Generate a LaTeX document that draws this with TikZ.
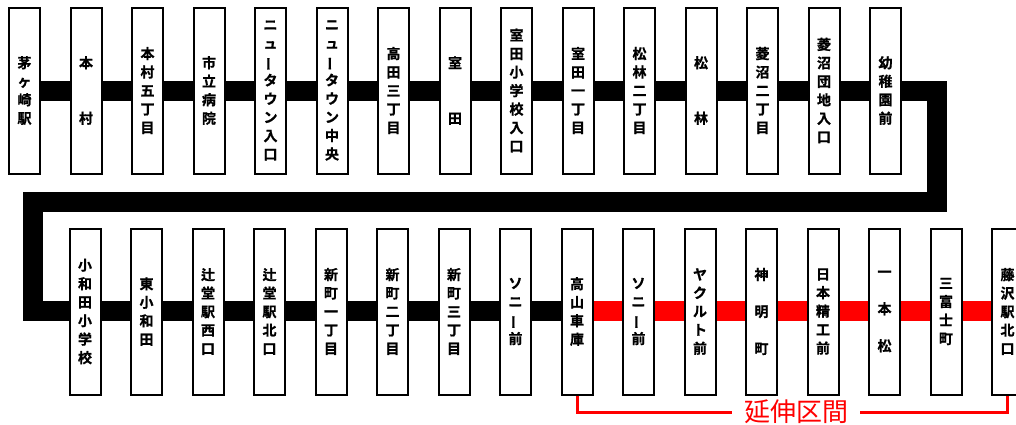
\documentclass[tikz,border=0pt]{standalone}
\usepackage{fontspec}
\usepackage{graphicx}
\newfontfamily\jp{Noto Sans CJK JP}
\newfontfamily\jpb{Noto Sans CJK JP Bold}[FakeBold=1]
\usetikzlibrary{backgrounds}
\newcommand\chobar{\rotatebox[origin=c]{90}{ー}}
\begin{document}
\begin{tikzpicture}[x=1pt,y=-1pt,
  st/.style={draw, line width=2pt, fill=white, minimum width=31pt, minimum height=166pt,
    inner sep=0pt, align=center, font=\jpb\fontsize{14}{18.5}\selectfont},
  bar/.style={line width=20pt, line join=miter, line cap=butt},
  redbar/.style={bar, red},
  brk/.style={red, line width=3pt},
  lbl/.style={red, inner xsep=12pt, inner ysep=0pt, font=\jp\fontsize{26}{26}\selectfont}]
\useasboundingbox (0,0) rectangle (1016,424);
\clip (0,0) rectangle (1016,424);
% top row
\node[st] (t1) at (24.5,90.5) {茅\\ヶ\\崎\\駅};
\node[st] (t2) at (86,90.5) {本\\　\\　\\村};
\node[st] (t3) at (147.5,90.5) {本\\村\\五\\丁\\目};
\node[st] (t4) at (209,90.5) {市\\立\\病\\院};
\node[st] (t5) at (270.5,90.5) {ニ\\ュ\\\chobar\\タ\\ウ\\ン\\入\\口};
\node[st] (t6) at (332,90.5) {ニ\\ュ\\\chobar\\タ\\ウ\\ン\\中\\央};
\node[st] (t7) at (393.5,90.5) {高\\田\\三\\丁\\目};
\node[st] (t8) at (455,90.5) {室\\　\\　\\田};
\node[st] (t9) at (516.5,90.5) {室\\田\\小\\学\\校\\入\\口};
\node[st] (t10) at (578,90.5) {室\\田\\一\\丁\\目};
\node[st] (t11) at (639.5,90.5) {松\\林\\二\\丁\\目};
\node[st] (t12) at (701,90.5) {松\\　\\　\\林};
\node[st] (t13) at (762.5,90.5) {菱\\沼\\二\\丁\\目};
\node[st] (t14) at (824,90.5) {菱\\沼\\団\\地\\入\\口};
\node[st] (t15) at (885.5,90.5) {幼\\稚\\園\\前};
% bottom row
\node[st] (b1) at (85,311.5) {小\\和\\田\\小\\学\\校};
\node[st] (b2) at (146.5,311.5) {東\\小\\和\\田};
\node[st] (b3) at (208,311.5) {辻\\堂\\駅\\西\\口};
\node[st] (b4) at (269.5,311.5) {辻\\堂\\駅\\北\\口};
\node[st] (b5) at (331,311.5) {新\\町\\一\\丁\\目};
\node[st] (b6) at (392.5,311.5) {新\\町\\二\\丁\\目};
\node[st] (b7) at (454,311.5) {新\\町\\三\\丁\\目};
\node[st] (b8) at (515.5,311.5) {ソ\\ニ\\\chobar\\前};
\node[st] (b9) at (577,311.5) {高\\山\\車\\庫};
\node[st] (b10) at (638.5,311.5) {ソ\\ニ\\\chobar\\前};
\node[st] (b11) at (700,311.5) {ヤ\\ク\\ル\\ト\\前};
\node[st] (b12) at (761.5,311.5) {神\\　\\明\\　\\町};
\node[st] (b13) at (823,311.5) {日\\本\\精\\工\\前};
\node[st] (b14) at (884.5,311.5) {一\\　\\本\\　\\松};
\node[st] (b15) at (946,311.5) {三\\富\\士\\町};
\node[st] (b16) at (1007.5,311.5) {藤\\沢\\駅\\北\\口};
% corners of the line
\coordinate (c1) at (936.5,91);
\coordinate (c2) at (936.5,201.5);
\coordinate (c3) at (32.5,201.5);
\coordinate (c4) at (32.5,311);
\begin{scope}[on background layer]
  \draw[bar] (t1.center |- c1) -- (c1) -- (c2) -- (c3) -- (c4) -- (c4 -| b9.center);
  \draw[redbar] (c4 -| b9.center) -- (c4 -| b16.center);
\end{scope}
% extension bracket
\node[lbl] (ext) at (796,412) {延伸区間};
\draw[brk] (b9.south) |- (ext.west);
\draw[brk] (ext.east) -| (b16.south);
\end{tikzpicture}
\end{document}
